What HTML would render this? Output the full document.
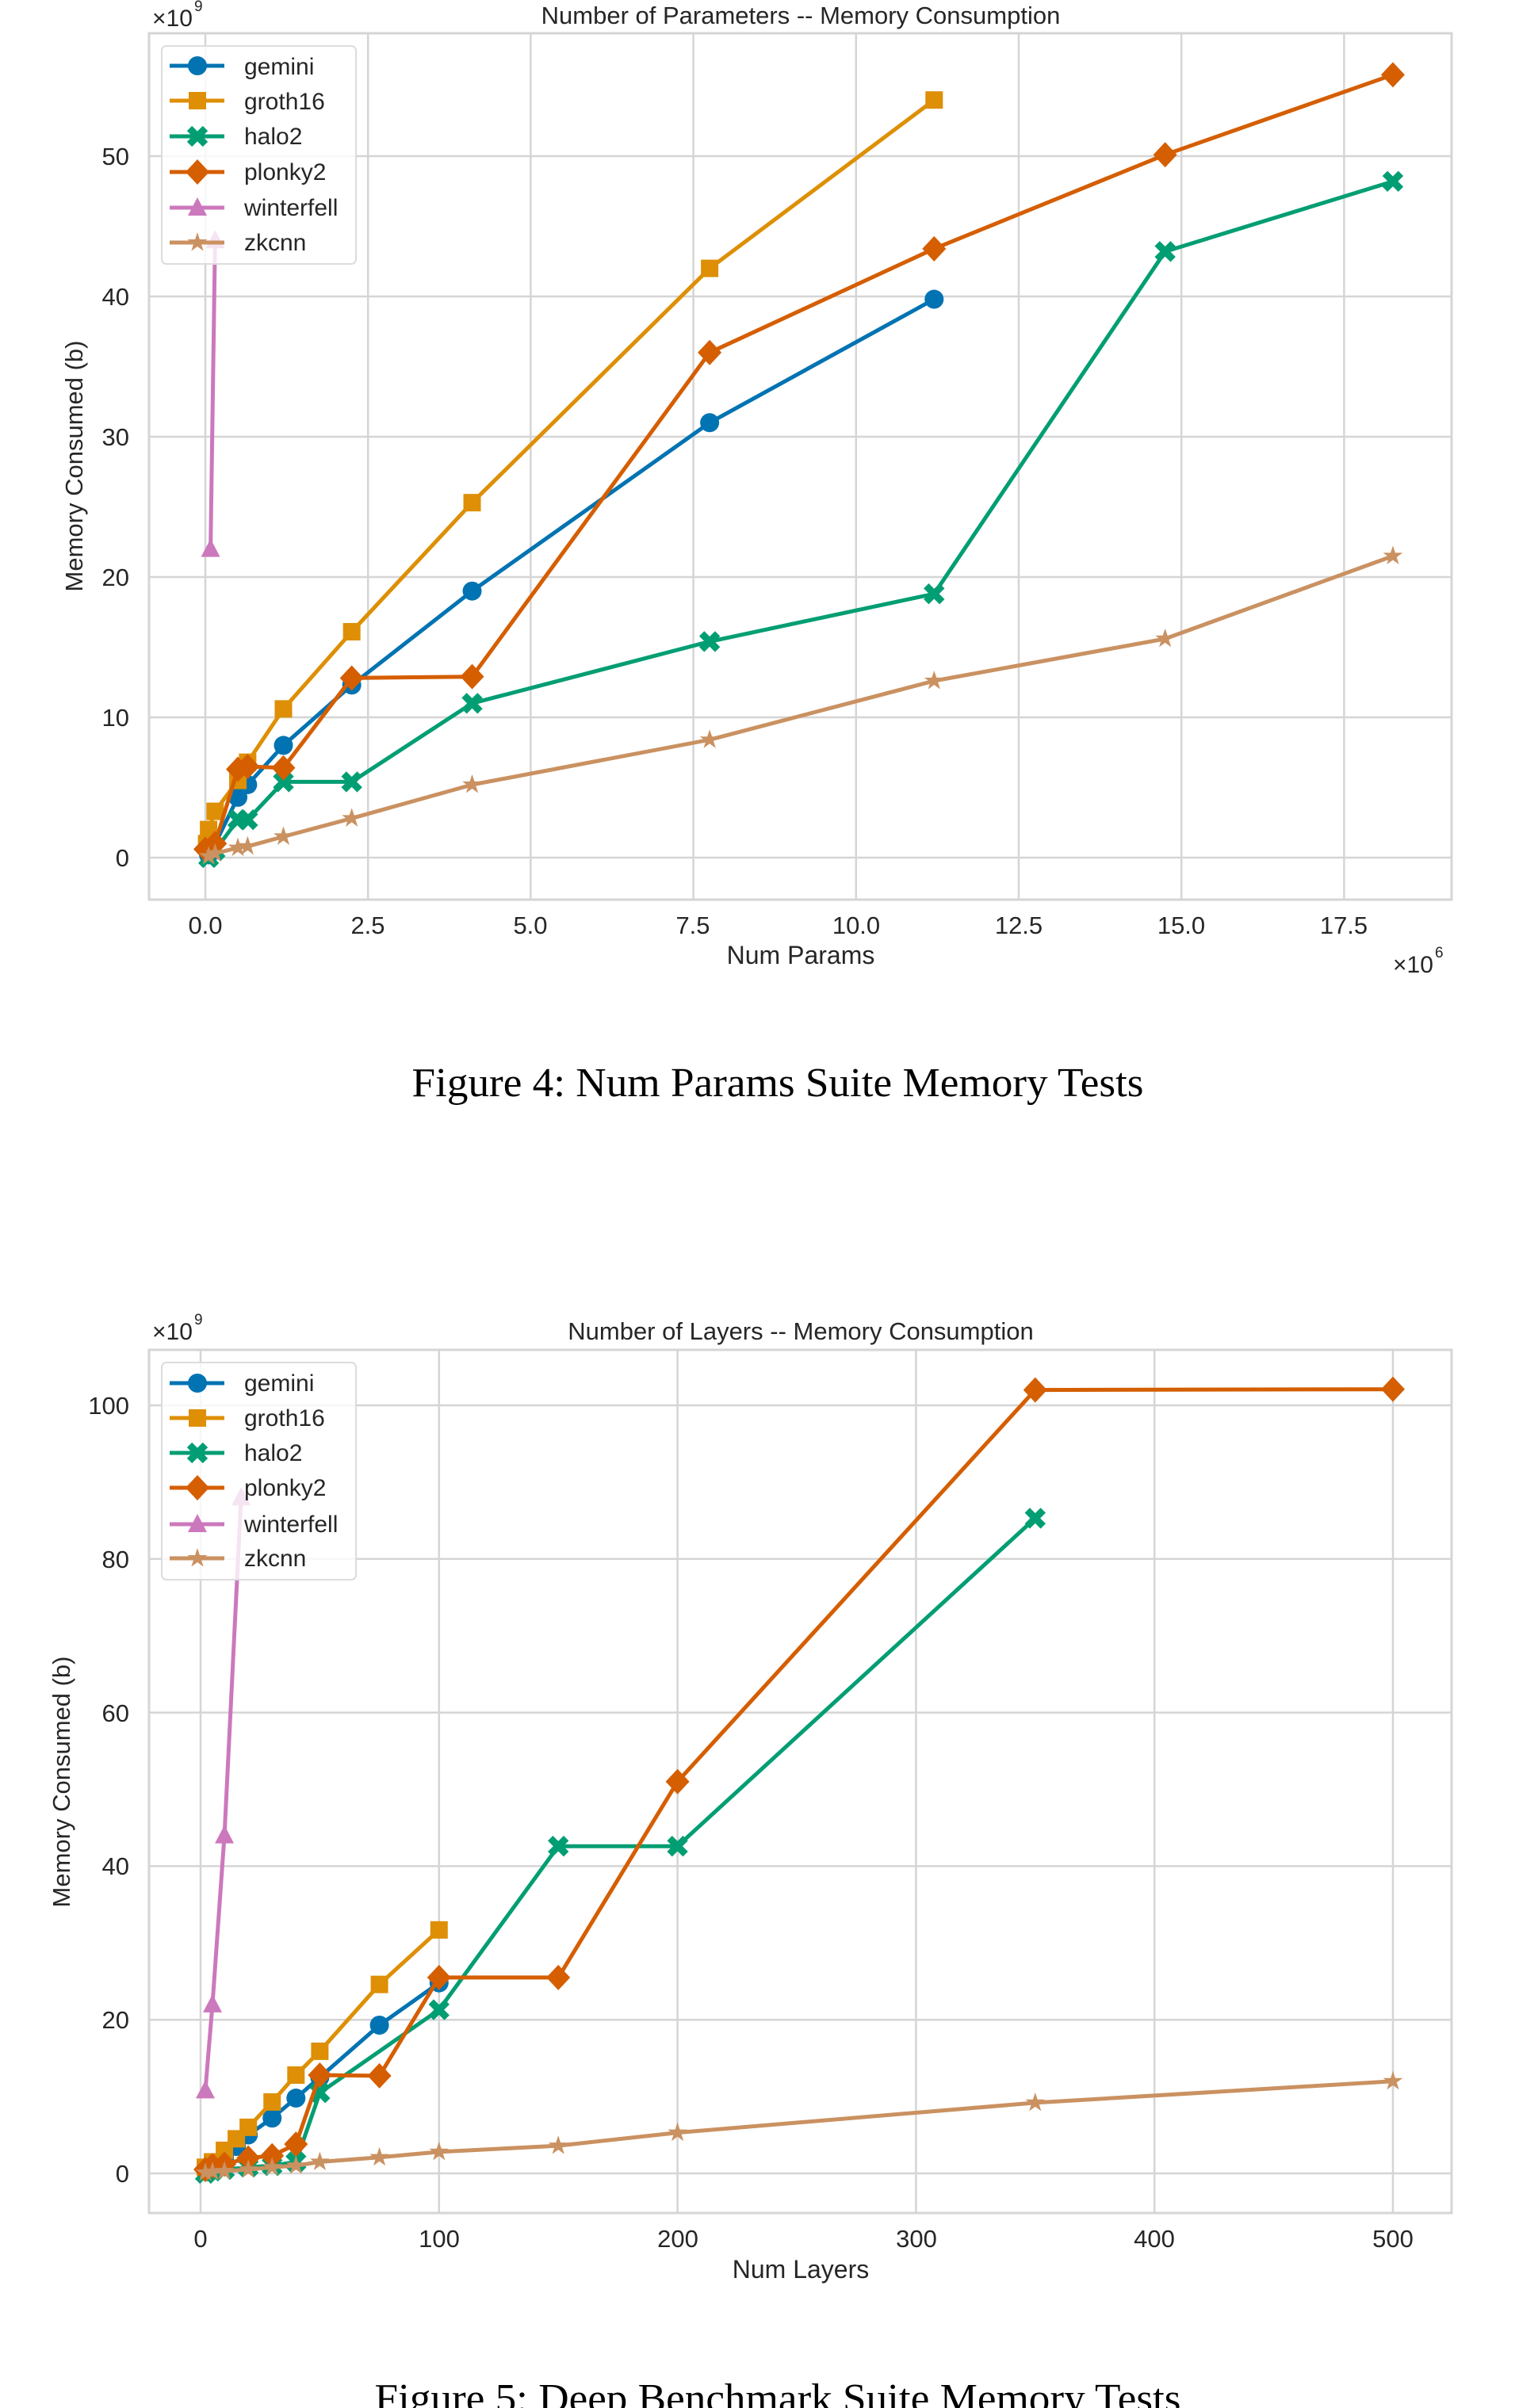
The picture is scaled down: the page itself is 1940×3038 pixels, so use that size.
<!DOCTYPE html>
<html><head><meta charset="utf-8"><style>
html,body{margin:0;padding:0;background:#fff;}
svg{display:block;}
text{font-family:"Liberation Sans",Arial,sans-serif;fill:#262626;}
.cap{font-family:"Liberation Serif","Times New Roman",serif;fill:#000;}
</style></head><body>
<svg id="s" width="1940" height="3038" viewBox="0 0 1940 3038" xmlns="http://www.w3.org/2000/svg">
<rect width="1940" height="3038" fill="#fff"/>
<g id="g1"></g>
<g id="g2"></g>
<!-- Chart 1 text -->
<text x="1010" y="30" font-size="31" text-anchor="middle">Number of Parameters -- Memory Consumption</text>
<text x="192" y="33" font-size="30">×10</text><text x="245" y="14" font-size="19">9</text>
<text x="1010" y="1216" font-size="32" text-anchor="middle">Num Params</text>
<text x="1757" y="1227" font-size="30">×10</text><text x="1810" y="1208" font-size="19">6</text>
<text transform="translate(104,588) rotate(-90)" font-size="31" text-anchor="middle">Memory Consumed (b)</text>
<g font-size="31" text-anchor="end">
<text x="163" y="1093">0</text><text x="163" y="916">10</text><text x="163" y="739">20</text>
<text x="163" y="562">30</text><text x="163" y="385">40</text><text x="163" y="208">50</text>
</g>
<g font-size="31" text-anchor="middle">
<text x="259" y="1178">0.0</text><text x="464" y="1178">2.5</text><text x="669" y="1178">5.0</text>
<text x="874" y="1178">7.5</text><text x="1080" y="1178">10.0</text><text x="1285" y="1178">12.5</text>
<text x="1490" y="1178">15.0</text><text x="1695" y="1178">17.5</text>
</g>
<text class="cap" x="981" y="1383" font-size="52" text-anchor="middle" textLength="923" lengthAdjust="spacingAndGlyphs">Figure 4: Num Params Suite Memory Tests</text>
<!-- Chart 2 text -->
<text x="1010" y="1690" font-size="31" text-anchor="middle">Number of Layers -- Memory Consumption</text>
<text x="192" y="1690" font-size="30">×10</text><text x="245" y="1671" font-size="19">9</text>
<text x="1010" y="2874" font-size="32" text-anchor="middle">Num Layers</text>
<text transform="translate(88,2248) rotate(-90)" font-size="31" text-anchor="middle">Memory Consumed (b)</text>
<g font-size="31" text-anchor="end">
<text x="163" y="2753">0</text><text x="163" y="2559">20</text><text x="163" y="2365">40</text>
<text x="163" y="2172">60</text><text x="163" y="1978">80</text><text x="163" y="1784">100</text>
</g>
<g font-size="31" text-anchor="middle">
<text x="253" y="2835">0</text><text x="554" y="2835">100</text><text x="855" y="2835">200</text>
<text x="1156" y="2835">300</text><text x="1456" y="2835">400</text><text x="1757" y="2835">500</text>
</g>
<text class="cap" x="981" y="3043" font-size="52" text-anchor="middle" textLength="1017" lengthAdjust="spacingAndGlyphs">Figure 5: Deep Benchmark Suite Memory Tests</text>
<!-- legends -->
<g font-size="30">
<text x="308" y="94">gemini</text><text x="308" y="138">groth16</text><text x="308" y="182">halo2</text>
<text x="308" y="227">plonky2</text><text x="308" y="272">winterfell</text><text x="308" y="316">zkcnn</text>
<text x="308" y="1755">gemini</text><text x="308" y="1799">groth16</text><text x="308" y="1843">halo2</text>
<text x="308" y="1887">plonky2</text><text x="308" y="1933">winterfell</text><text x="308" y="1976">zkcnn</text>
</g>
</svg>
<script>
var NS="http://www.w3.org/2000/svg";
var C={gemini:"#0173b2",groth16:"#de8f05",halo2:"#029e73",plonky2:"#d55e00",winterfell:"#cc78bc",zkcnn:"#ca9161"};
var M={gemini:"o",groth16:"s",halo2:"x",plonky2:"d",winterfell:"t",zkcnn:"*"};
function el(p,t,a){var e=document.createElementNS(NS,t);for(var k in a)e.setAttribute(k,a[k]);p.appendChild(e);return e;}
function marker(g,m,x,y,c){
 if(m=="o")el(g,"circle",{cx:x,cy:y,r:12,fill:c});
 else if(m=="s")el(g,"rect",{x:x-11,y:y-11,width:22,height:22,fill:c});
 else if(m=="d")el(g,"polygon",{points:[x,y-16,x+15,y,x,y+16,x-15,y].join(","),fill:c});
 else if(m=="t")el(g,"polygon",{points:[x,y-13,x+12,y+10,x-12,y+10].join(","),fill:c});
 else if(m=="x"){var d="M"+(x-10)+","+(y-10)+"L"+(x+10)+","+(y+10)+"M"+(x+10)+","+(y-10)+"L"+(x-10)+","+(y+10);el(g,"path",{d:d,stroke:c,"stroke-width":9,fill:"none"});}
 else if(m=="*"){var p=[];for(var i=0;i<10;i++){var r=i%2?5:13,a=-Math.PI/2+i*Math.PI/5;p.push((x+r*Math.cos(a)).toFixed(1)+","+(y+r*Math.sin(a)).toFixed(1));}el(g,"polygon",{points:p.join(" "),fill:c});}
}
function chart(gid,box,fx,fy,xt,yt,data,leg){
 var g=document.getElementById(gid);
 el(g,"rect",{x:box[0],y:box[1],width:box[2]-box[0],height:box[3]-box[1],fill:"#fff",stroke:"#d5d5d5","stroke-width":3});
 xt.forEach(function(v){var X=fx(v);el(g,"line",{x1:X,x2:X,y1:box[1],y2:box[3],stroke:"#d5d5d5","stroke-width":2.5});});
 yt.forEach(function(v){var Y=fy(v);el(g,"line",{x1:box[0],x2:box[2],y1:Y,y2:Y,stroke:"#d5d5d5","stroke-width":2.5});});
 for(var k in data){var pts=data[k].map(function(p){return fx(p[0]).toFixed(1)+","+fy(p[1]).toFixed(1);});
  el(g,"polyline",{points:pts.join(" "),fill:"none",stroke:C[k],"stroke-width":5,"stroke-linejoin":"round"});
  data[k].forEach(function(p){marker(g,M[k],fx(p[0]),fy(p[1]),C[k]);});}
 el(g,"rect",{x:204,y:leg[0],width:245,height:leg[1],rx:6,fill:"#fff","fill-opacity":0.8,stroke:"#dcdcdc","stroke-width":2});
 var ks=Object.keys(C);
 ks.forEach(function(k,i){var Y=leg[2][i];el(g,"line",{x1:214,x2:283,y1:Y,y2:Y,stroke:C[k],"stroke-width":5});marker(g,M[k],249,Y,C[k]);});
}
chart("g1",[188,42,1831,1135],function(x){return 259+x*82.08;},function(y){return 1082-y*17.7;},
 [0,2.5,5,7.5,10,12.5,15,17.5],[0,10,20,30,40,50],{
 gemini:[[0.05,0.2],[0.1,0.5],[0.5,4.3],[0.65,5.2],[1.2,8],[2.25,12.3],[4.1,19],[7.75,31],[11.2,39.8]],
 groth16:[[0.02,1],[0.05,2],[0.15,3.3],[0.5,5.5],[0.65,6.8],[1.2,10.6],[2.25,16.1],[4.1,25.3],[7.75,42],[11.2,54]],
 halo2:[[0.05,0],[0.15,0.5],[0.5,2.7],[0.65,2.7],[1.2,5.4],[2.25,5.4],[4.1,11],[7.75,15.4],[11.2,18.8],[14.75,43.2],[18.25,48.2]],
 plonky2:[[0,0.6],[0.15,1],[0.5,6.3],[0.65,6.5],[1.2,6.4],[2.25,12.8],[4.1,12.9],[7.75,36],[11.2,43.4],[14.75,50.1],[18.25,55.8]],
 winterfell:[[0.08,22],[0.15,44]],
 zkcnn:[[0.05,0.1],[0.15,0.3],[0.5,0.7],[0.65,0.8],[1.2,1.5],[2.25,2.8],[4.1,5.2],[7.75,8.4],[11.2,12.6],[14.75,15.6],[18.25,21.5]]
 },[58,275,[83,127,172,217,262,306]]);
chart("g2",[188,1703,1831,2792],function(x){return 253+x*3.008;},function(y){return 2742-y*9.69;},
 [0,100,200,300,400,500],[0,20,40,60,80,100],{
 gemini:[[2,0.5],[5,1],[10,2],[15,3.5],[20,5],[30,7.2],[40,9.8],[50,12.5],[75,19.3],[100,24.8]],
 groth16:[[2,0.8],[5,1.5],[10,3],[15,4.5],[20,6],[30,9.3],[40,12.8],[50,15.9],[75,24.6],[100,31.7]],
 halo2:[[2,0],[5,0.3],[10,0.5],[20,0.8],[30,1],[40,1.5],[50,10.5],[100,21.3],[150,42.6],[200,42.6],[350,85.3]],
 plonky2:[[2,0.5],[5,1],[10,1.2],[20,2],[30,2.3],[40,3.8],[50,12.8],[75,12.7],[100,25.5],[150,25.5],[200,51],[350,102],[500,102.1]],
 winterfell:[[2,10.8],[5,22],[10,44],[17,88]],
 zkcnn:[[2,0.1],[5,0.2],[10,0.3],[20,0.5],[30,0.8],[40,1],[50,1.5],[75,2.1],[100,2.8],[150,3.6],[200,5.3],[350,9.2],[500,12]]
 },[1719,274,[1745,1789,1833,1877,1923,1966]]);
</script>
</body></html>
